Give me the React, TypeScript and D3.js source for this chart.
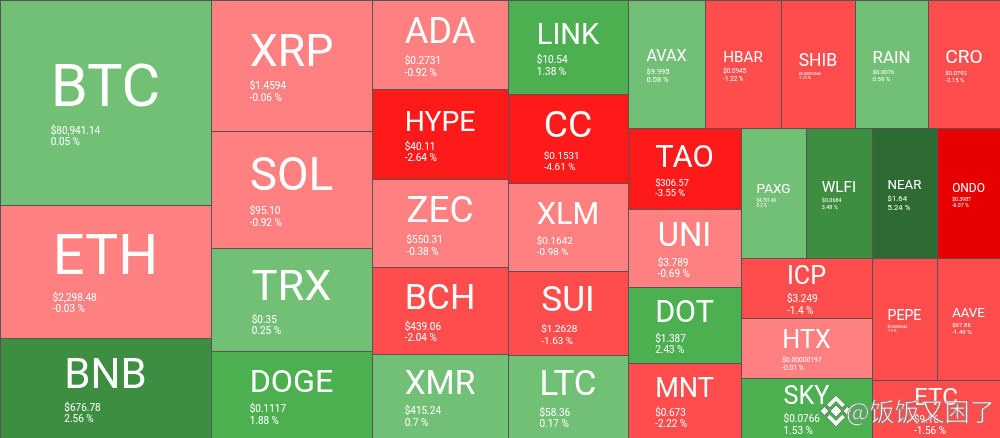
import React from 'react';
import * as d3 from 'd3';

// coins, read left to right / top to bottom
const symbols = [
  'BTC', 'ETH', 'BNB', 'XRP', 'SOL', 'TRX', 'DOGE',
  'ADA', 'HYPE', 'ZEC', 'BCH', 'XMR', 'LINK', 'CC', 'XLM', 'SUI', 'LTC',
  'AVAX', 'HBAR', 'SHIB', 'RAIN', 'CRO', 'TAO', 'UNI', 'DOT', 'MNT',
  'PAXG', 'WLFI', 'NEAR', 'ONDO', 'ICP', 'HTX', 'SKY', 'PEPE', 'AAVE', 'ETC',
];
const prices = [
  '$80,941.14', '$2,298.48', '$676.78', '$1.4594', '$95.10', '$0.35', '$0.1117',
  '$0.2731', '$40.11', '$550.31', '$439.06', '$415.24', '$10.54', '$0.1531', '$0.1642', '$1.2628', '$58.36',
  '$9.995', '$0.0945', '$0.00000566', '$0.0076', '$0.0792', '$306.57', '$3.789', '$1.387', '$0.673',
  '$4,701.46', '$0.0684', '$1.64', '$0.3987', '$3.249', '$0.00000197', '$0.0766', '$0.00000344', '$97.86', '$9.16',
];
const changes = [
  0.05, -0.03, 2.56, -0.06, -0.92, 0.25, 1.88,
  -0.92, -2.64, -0.38, -2.04, 0.7, 1.38, -4.61, -0.98, -1.63, 0.17,
  0.08, -1.22, -1.22, 0.59, -2.15, -3.55, -0.69, 2.43, -2.22,
  0.2, 3.48, 5.24, -6.07, -1.4, -0.01, 1.53, -1.5, -1.49, -1.56,
];
// relative size (market cap weight) estimated from tile areas
const weights = [
  43255, 28063, 21100, 21091, 18837, 16583, 14007,
  12104, 12240, 11968, 11832, 11424, 11280, 10680, 10560, 10080, 9960,
  9856, 9728, 9472, 9344, 9216, 9153, 8814, 8588, 8475,
  8450, 8580, 8450, 8190, 7860, 7860, 7860, 7930, 7686, 7424,
];

// grouping of the treemap: 'dice' = side by side, 'slice' = stacked
const groups: any = ['dice', [
  ['slice', ['BTC', 'ETH', 'BNB']],
  ['slice', ['XRP', 'SOL', 'TRX', 'DOGE']],
  ['slice', ['ADA', 'HYPE', 'ZEC', 'BCH', 'XMR']],
  ['slice', ['LINK', 'CC', 'XLM', 'SUI', 'LTC']],
  ['slice', [
    ['dice', ['AVAX', 'HBAR', 'SHIB', 'RAIN', 'CRO']],
    ['dice', [
      ['slice', ['TAO', 'UNI', 'DOT', 'MNT']],
      ['slice', [
        ['dice', ['PAXG', 'WLFI', 'NEAR', 'ONDO']],
        ['dice', [
          ['slice', ['ICP', 'HTX', 'SKY']],
          ['slice', [['dice', ['PEPE', 'AAVE']], 'ETC']],
        ]],
      ]],
    ]],
  ]],
]];

const width = 1000;
const height = 438;
const fontFamily = 'Roboto, "Noto Sans", sans-serif';

const color = d3.scaleThreshold<number, string>()
  .domain([-5, -2.5, -1, 0, 1, 2.5, 5])
  .range(['#e60000', '#ff1a1a', '#ff4d4d', '#ff8080', '#72c075', '#4caf50', '#3d8e40', '#2e6b32']);

const build = (n: any): any => {
  if (typeof n === 'string') {
    const i = symbols.indexOf(n);
    return { name: n, i, value: weights[i] };
  }
  return { dir: n[0], children: n[1].map(build) };
};

const ctx = document.createElement('canvas').getContext('2d')!;
const measure = (t: string, size: number) => {
  ctx.font = `400 ${size}px ${fontFamily}`;
  return ctx.measureText(t).width;
};

const Tile = ({ node }: { node: any }) => {
  const { x0, y0, x1, y1 } = node;
  const d = node.data;
  const w = x1 - x0;
  const h = y1 - y0;
  const sym = d.name;
  const price = prices[d.i];
  const ch = changes[d.i];
  const S = Math.min((0.52 * w) / (measure(sym, 100) / 100), 0.42 * h);
  const P = Math.min(10, (0.3 * w) / (measure(price, 100) / 100));
  const gap1 = 0.28 * S + 1.1 * P;
  const gap2 = 1.15 * P;
  const blockH = 0.71 * S + gap1 + gap2;
  const top = y0 + h / 2 - blockH / 2 + 2;
  const ys = top + 0.71 * S;
  const cx = x0 + w / 2;
  const left = cx - measure(sym, S) / 2;
  return (
    <g>
      <rect x={x0} y={y0} width={w} height={h} fill={color(ch)}
        stroke="#555" strokeWidth={1} shapeRendering="crispEdges" />
      <text x={cx} y={ys} textAnchor="middle" fontSize={S} fill="#fff">{sym}</text>
      <text x={left} y={ys + gap1} fontSize={P} fill="#fff">{price}</text>
      <text x={left} y={ys + gap1 + gap2} fontSize={P} fill="#fff">{`${ch} %`}</text>
    </g>
  );
};

const Watermark = () => (
  <g opacity={0.92}>
    <g transform="translate(836,411) scale(1.05)" fill="#fff" stroke="#666" strokeWidth={0.8}>
      <rect x={-4} y={-4} width={8} height={8} transform="rotate(45)" />
      <rect x={-3} y={-3} width={6} height={6} transform="translate(-11,0) rotate(45)" />
      <rect x={-3} y={-3} width={6} height={6} transform="translate(11,0) rotate(45)" />
      <polygon points="0,-15 9,-6 6,-3 0,-9 -6,-3 -9,-6" />
      <polygon points="0,15 9,6 6,3 0,9 -6,3 -9,6" />
    </g>
    <text x={846} y={421} fontSize={25} fill="#fff" stroke="#777" strokeWidth={0.6}
      fontFamily='"Noto Sans CJK SC", sans-serif'>@饭饭又困了</text>
  </g>
);

export default function App() {
  const root = d3.hierarchy(build(groups)).sum((d: any) => d.value || 0);
  d3.treemap<any>()
    .size([width, height])
    .tile((node: any, x0: number, y0: number, x1: number, y1: number) =>
      (node.data.dir === 'slice' ? d3.treemapSlice : d3.treemapDice)(node, x0, y0, x1, y1))
    .round(true)(root);
  const leaves = root.leaves();
  return (
    <svg width={width} height={height} fontFamily={fontFamily}
      style={{ position: 'fixed', left: 0, top: 0, display: 'block' }}>
      {leaves.map((n: any) => <Tile key={n.data.name} node={n} />)}
      <Watermark />
    </svg>
  );
}
